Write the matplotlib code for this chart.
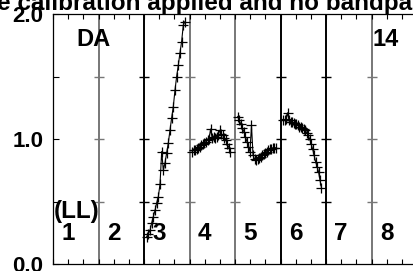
import numpy as np
import matplotlib
matplotlib.use("Agg")
import matplotlib.pyplot as plt

plt.rcParams['font.family'] = ['Liberation Sans', 'DejaVu Sans']
plt.rcParams['font.weight'] = 'bold'

title = "e calibration applied and no bandpass applied"
source = "DA"
stokes = "(LL)"
baseline = "14"
if_labels = ["1", "2", "3", "4", "5", "6", "7", "8"]
sep_colors = ["#777777", "#000000", "#777777", "#777777", "#000000", "#000000", "#777777"]

# amplitude per IF (IF 3..6 carry data)
if3_amp = [0.22, 0.24, 0.27, 0.33, 0.38, 0.43, 0.49, 0.54, 0.64, 0.90, 0.75, 0.81,
           0.89, 0.97, 1.07, 1.17, 1.26, 1.39, 1.50, 1.59, 1.69, 1.78, 1.91, 1.94]
if4_amp = [0.90, 0.91, 0.91, 0.92, 0.93, 0.94, 0.95, 0.96, 0.97, 0.98, 0.99, 1.00, 1.08,
           1.01, 1.02, 1.01, 1.02, 1.03, 1.07, 1.04, 1.03, 1.01, 0.99, 0.96, 0.93, 0.90]
if5_amp = [1.18, 1.15, 1.12, 1.09, 1.06, 1.02, 0.98, 0.94, 0.90, 1.11, 0.87, 0.84, 0.83,
           0.84, 0.85, 0.86, 0.87, 0.88, 0.89, 0.90, 0.91, 0.92, 0.92, 0.93, 0.93, 0.93]
if6_amp = [1.15, 1.15, 1.16, 1.21, 1.15, 1.14, 1.14, 1.13, 1.12, 1.12, 1.11, 1.10, 1.10, 1.09,
           1.08, 1.07, 1.05, 1.03, 1.00, 0.96, 0.92, 0.87, 0.82, 0.78, 0.74, 0.67, 0.61]
if_data = {2: if3_amp, 3: if4_amp, 4: if5_amp, 5: if6_amp}

W, H = 413, 271
fig = plt.figure(figsize=(W / 100, H / 100), dpi=100)
ax = fig.add_axes([53 / W, 7 / H, 8 * 45.5 / W, 250 / H])

for k, amp in if_data.items():
    x = k + np.linspace(0.06, 0.9, len(amp))
    ax.plot(x, amp, color='black', lw=0.8, marker='+', ms=6.5, mew=0.9)

for i, c in enumerate(sep_colors):
    ax.axvline(i + 1, color=c, lw=1.4, zorder=1)
    ax.plot([i + 1] * 3, [0.5, 1.0, 1.5], ls='none', marker='_', ms=7.5, mew=1.0, color=c)

for i, lab in enumerate(if_labels):
    ax.text(i + 1 / 3, 0.24, lab, ha='center', va='center', fontsize=17.5, fontweight='bold')
ax.text(0.02, 0.42, stokes, ha='left', va='center', fontsize=17.5, fontweight='bold')
ax.text(0.89, 1.80, source, ha='center', va='center', fontsize=17, fontweight='bold')
ax.text(7.02, 1.80, baseline, ha='left', va='center', fontsize=17, fontweight='bold')

ax.set_xlim(0, 8)
ax.set_ylim(0, 2)
ax.set_xticks(np.arange(0, 8.01, 1 / 3))
ax.set_xticklabels([])
ax.set_yticks([0, 0.5, 1.0, 1.5, 2.0])
ax.set_yticklabels(["0.0", "", "1.0", "", "2.0"])
ax.tick_params(axis='x', direction='in', top=True, length=3.5, width=0.8)
ax.tick_params(axis='y', direction='in', length=4, width=0.8, pad=7, labelsize=16)
for lbl in ax.get_yticklabels():
    lbl.set_fontweight('bold')
for s in ax.spines.values():
    s.set_linewidth(0.9)

fig.text(-3 / W, 1 - 10 / H, title, ha='left', va='baseline', fontsize=17.5, fontweight='bold')

fig.savefig("out.png", dpi=100)
